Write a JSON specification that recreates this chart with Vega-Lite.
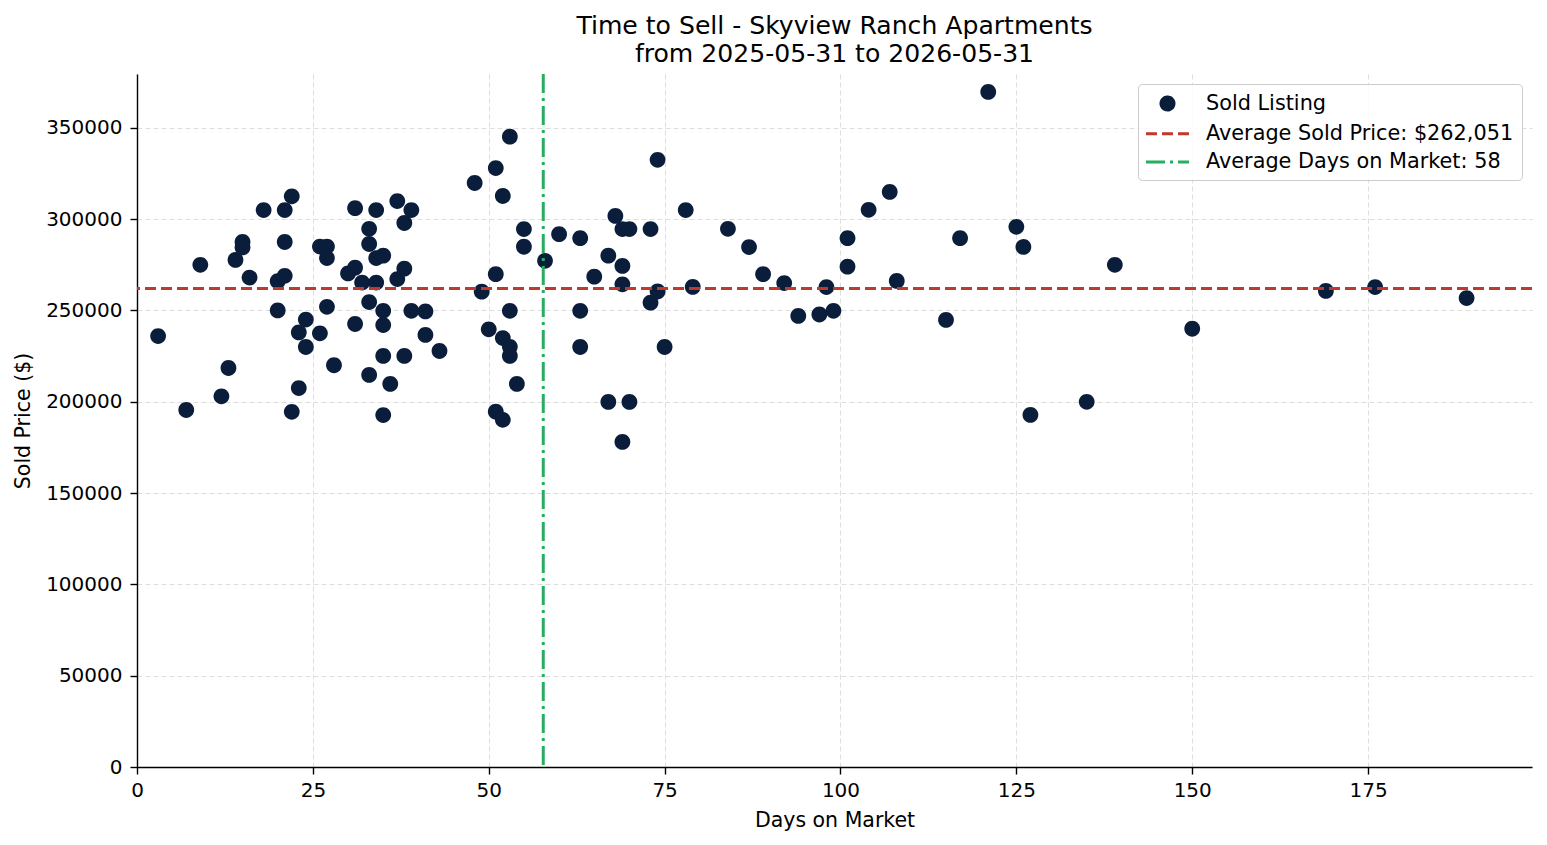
{
  "$schema": "https://vega.github.io/schema/vega-lite/v6.json",
  "width": 1395,
  "height": 693,
  "autosize": {"type": "none"},
  "padding": {"left": 137, "top": 74, "right": 15, "bottom": 78},
  "background": "white",
  "title": {
    "text": ["Time to Sell - Skyview Ranch Apartments", "from 2025-05-31 to 2026-05-31"],
    "anchor": "middle",
    "frame": "group",
    "font": "DejaVu Sans",
    "fontSize": 25.1,
    "fontWeight": "normal",
    "color": "#000000",
    "lineHeight": 28,
    "offset": 5
  },
  "datasets": {
    "listings": [
      {"days": 3, "price": 236000}, {"days": 7, "price": 195500}, {"days": 9, "price": 275000},
      {"days": 12, "price": 203000}, {"days": 13, "price": 218500}, {"days": 14, "price": 277700},
      {"days": 15, "price": 287500}, {"days": 15, "price": 284500}, {"days": 16, "price": 268000},
      {"days": 18, "price": 305000}, {"days": 20, "price": 266000}, {"days": 20, "price": 250000},
      {"days": 21, "price": 305000}, {"days": 21, "price": 287500}, {"days": 21, "price": 269000},
      {"days": 22, "price": 312500}, {"days": 22, "price": 194500}, {"days": 23, "price": 238000},
      {"days": 23, "price": 207500}, {"days": 24, "price": 245000}, {"days": 24, "price": 230000},
      {"days": 26, "price": 285000}, {"days": 26, "price": 237500}, {"days": 27, "price": 285000},
      {"days": 27, "price": 278700}, {"days": 27, "price": 252000}, {"days": 28, "price": 220000},
      {"days": 30, "price": 270300}, {"days": 31, "price": 306000}, {"days": 31, "price": 273400},
      {"days": 31, "price": 242600}, {"days": 32, "price": 265300}, {"days": 33, "price": 294700},
      {"days": 33, "price": 286400}, {"days": 33, "price": 254600}, {"days": 33, "price": 214700},
      {"days": 34, "price": 305000}, {"days": 34, "price": 278700}, {"days": 34, "price": 265300},
      {"days": 35, "price": 280000}, {"days": 35, "price": 249800}, {"days": 35, "price": 242000},
      {"days": 35, "price": 225100}, {"days": 35, "price": 192700}, {"days": 36, "price": 209800},
      {"days": 37, "price": 309900}, {"days": 37, "price": 267200}, {"days": 38, "price": 297900},
      {"days": 38, "price": 272900}, {"days": 38, "price": 225100}, {"days": 39, "price": 305000},
      {"days": 39, "price": 249800}, {"days": 41, "price": 249500}, {"days": 41, "price": 236600},
      {"days": 43, "price": 227800}, {"days": 48, "price": 319800}, {"days": 49, "price": 260300},
      {"days": 50, "price": 239700}, {"days": 51, "price": 328000}, {"days": 51, "price": 269900},
      {"days": 51, "price": 194600}, {"days": 52, "price": 312700}, {"days": 52, "price": 234900},
      {"days": 52, "price": 190100}, {"days": 53, "price": 345200}, {"days": 53, "price": 249800},
      {"days": 53, "price": 230100}, {"days": 53, "price": 225100}, {"days": 54, "price": 209800},
      {"days": 55, "price": 294600}, {"days": 55, "price": 284900}, {"days": 58, "price": 277200},
      {"days": 60, "price": 291800}, {"days": 63, "price": 289600}, {"days": 63, "price": 249800},
      {"days": 63, "price": 230000}, {"days": 65, "price": 268500}, {"days": 67, "price": 280000},
      {"days": 67, "price": 199900}, {"days": 68, "price": 301800}, {"days": 69, "price": 294600},
      {"days": 69, "price": 274400}, {"days": 69, "price": 264300}, {"days": 69, "price": 178000},
      {"days": 70, "price": 294600}, {"days": 70, "price": 199900}, {"days": 73, "price": 294600},
      {"days": 73, "price": 254300}, {"days": 74, "price": 332500}, {"days": 74, "price": 260400},
      {"days": 75, "price": 230000}, {"days": 78, "price": 305000}, {"days": 79, "price": 262900},
      {"days": 84, "price": 294700}, {"days": 87, "price": 284700}, {"days": 89, "price": 269900},
      {"days": 92, "price": 265000}, {"days": 94, "price": 247000}, {"days": 97, "price": 247800},
      {"days": 98, "price": 262800}, {"days": 99, "price": 249800}, {"days": 101, "price": 289600},
      {"days": 101, "price": 274000}, {"days": 104, "price": 305100}, {"days": 107, "price": 314900},
      {"days": 108, "price": 266200}, {"days": 115, "price": 244800}, {"days": 117, "price": 289600},
      {"days": 121, "price": 369700}, {"days": 125, "price": 295800}, {"days": 126, "price": 284800},
      {"days": 127, "price": 192800}, {"days": 135, "price": 200000}, {"days": 139, "price": 275000},
      {"days": 150, "price": 240000}, {"days": 169, "price": 260700}, {"days": 176, "price": 262800},
      {"days": 189, "price": 256800}
    ],
    "avgPrice": [{"price": 262051, "label": "Average Sold Price: $262,051"}],
    "avgDays": [{"days": 57.75, "label": "Average Days on Market: 58"}]
  },
  "layer": [
    {
      "data": {"name": "listings"},
      "mark": {"type": "point", "filled": true, "size": 590, "opacity": 1, "strokeWidth": 0},
      "encoding": {
        "x": {
          "field": "days", "type": "quantitative", "title": "Days on Market",
          "scale": {"domain": [0, 198.3], "nice": false, "zero": false},
          "axis": {"values": [0, 25, 50, 75, 100, 125, 150, 175], "format": "d"}
        },
        "y": {
          "field": "price", "type": "quantitative", "title": "Sold Price ($)",
          "scale": {"domain": [0, 379500], "nice": false, "zero": false},
          "axis": {"values": [0, 50000, 100000, 150000, 200000, 250000, 300000, 350000], "format": "d"}
        },
        "color": {
          "datum": "Sold Listing",
          "type": "nominal",
          "title": null,
          "scale": {
            "domain": ["Sold Listing", "Average Sold Price: $262,051", "Average Days on Market: 58"],
            "range": ["#0a1e3c", "#c0392b", "#27ae60"]
          }
        },
        "shape": {
          "datum": "Sold Listing",
          "type": "nominal",
          "title": null,
          "scale": {
            "domain": ["Sold Listing", "Average Sold Price: $262,051", "Average Days on Market: 58"],
            "range": ["M-0.65,0A0.65,0.65 0 1,0 0.65,0A0.65,0.65 0 1,0 -0.65,0Z", "M-2.15,0H2.15", "M-2.15,0H2.15"]
          }
        }
      }
    },
    {
      "data": {"name": "avgPrice"},
      "mark": {"type": "rule", "strokeWidth": 3},
      "encoding": {
        "y": {"field": "price", "type": "quantitative"},
        "color": {"field": "label", "type": "nominal", "title": null},
        "strokeDash": {
          "field": "label", "type": "nominal", "title": null,
          "scale": {
            "domain": ["Sold Listing", "Average Sold Price: $262,051", "Average Days on Market: 58"],
            "range": [[1, 0], [11, 5], [19, 5, 3, 5]]
          }
        }
      }
    },
    {
      "data": {"name": "avgDays"},
      "mark": {"type": "rule", "strokeWidth": 3},
      "encoding": {
        "x": {"field": "days", "type": "quantitative"},
        "color": {"field": "label", "type": "nominal", "title": null},
        "strokeDash": {"field": "label", "type": "nominal", "title": null}
      }
    }
  ],
  "config": {
    "font": "DejaVu Sans",
    "view": {"stroke": null},
    "legend": {
      "title": null,
      "orient": "top-right",
      "offset": 10,
      "padding": 8,
      "fillColor": "rgba(255,255,255,0.85)",
      "strokeColor": "#cccccc",
      "cornerRadius": 4,
      "labelFont": "DejaVu Sans",
      "labelFontSize": 20.8,
      "labelColor": "#000000",
      "labelLimit": 500,
      "labelOffset": 27,
      "rowPadding": 6.2,
      "symbolSize": 400,
      "symbolOffset": 10,
      "symbolStrokeWidth": 3,
      "symbolOpacity": 1
    },
    "axis": {
      "domainColor": "#000000",
      "domainWidth": 1.4,
      "tickColor": "#000000",
      "tickWidth": 1.4,
      "tickSize": 7,
      "labelFont": "DejaVu Sans",
      "labelFontSize": 20,
      "labelColor": "#000000",
      "titleFont": "DejaVu Sans",
      "titleFontSize": 20.5,
      "titleFontWeight": "normal",
      "titleColor": "#000000",
      "grid": true,
      "gridColor": "#d6d6d6",
      "gridWidth": 0.8,
      "gridDash": [5, 3],
      "labelFlush": false,
      "labelOverlap": false
    },
    "axisX": {"labelPadding": 6, "titlePadding": 10},
    "axisY": {"labelPadding": 8, "titlePadding": 12}
  }
}
